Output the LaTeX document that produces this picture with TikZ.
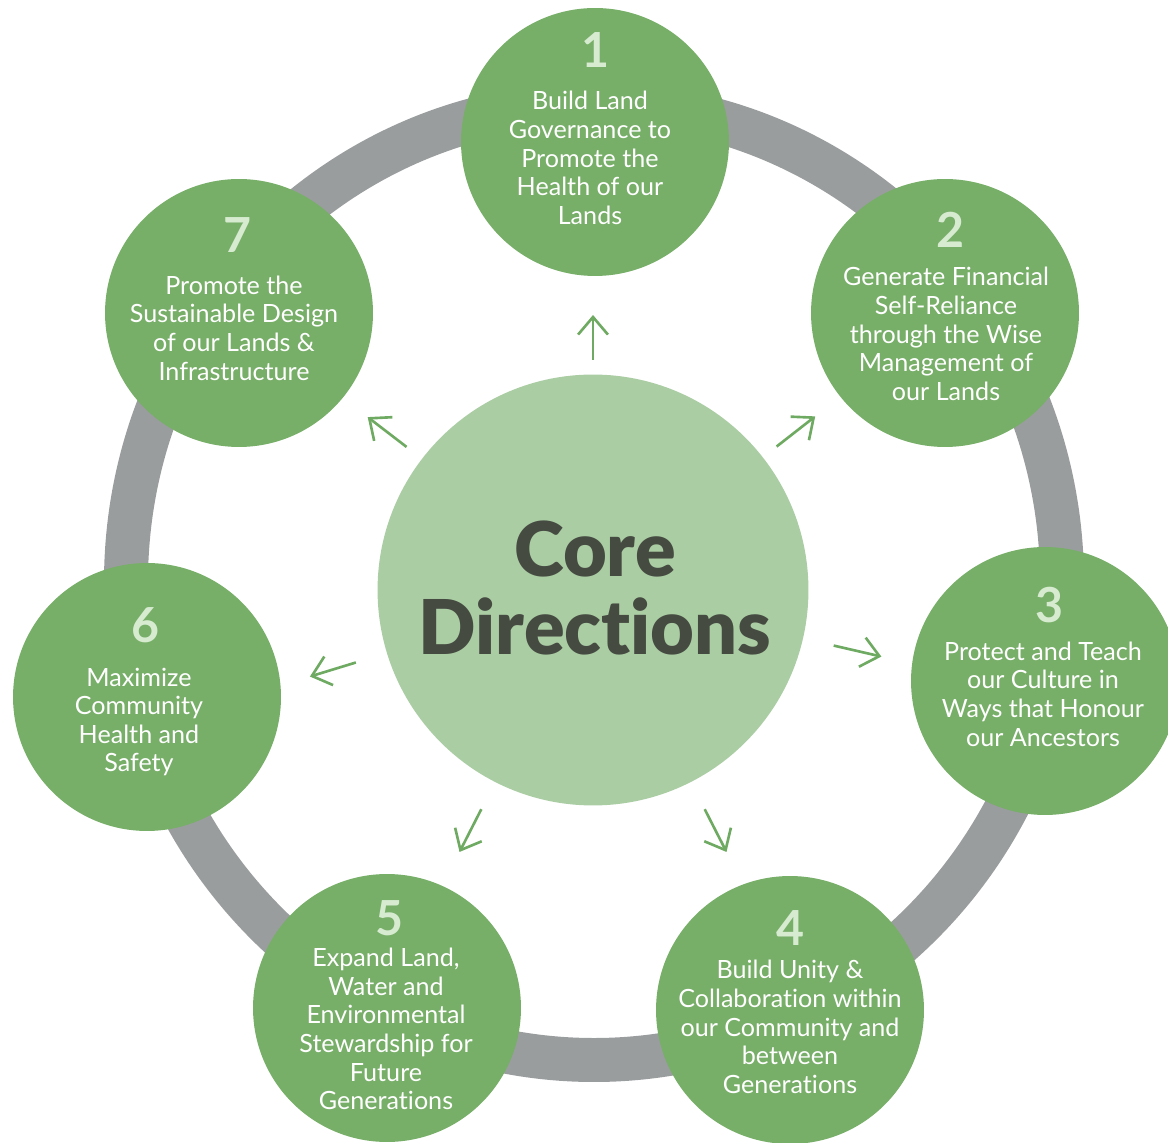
\documentclass[tikz,border=0pt]{standalone}
\usepackage{fontspec}
\setmainfont{Lato}[Ligatures=NoCommon]
\newfontfamily\corefont{Lato Black}[Ligatures=NoCommon]
\usetikzlibrary{arrows.meta,calc}

\definecolor{ringgray}{HTML}{9A9D9E}
\definecolor{dirgreen}{HTML}{77AE68}
\definecolor{coregreen}{HTML}{ABCDA4}
\definecolor{numgreen}{HTML}{D6EBD0}
\definecolor{coretext}{HTML}{454B41}
\definecolor{arrowgreen}{HTML}{6FAA62}

\tikzset{
  dircircle/.style={circle,fill=dirgreen,minimum size=5.36cm,inner sep=0pt},
  dirnum/.style={text=numgreen,font=\fontsize{27.5}{30}\selectfont\bfseries},
  dirtext/.style={text=white,align=center,inner sep=0pt,font=\fontsize{14.3}{16.3}\selectfont},
  dirarrow/.style={arrowgreen,line width=1.5pt,-{Straight Barb[length=10pt,width=17pt]}}
}

\begin{document}
\begin{tikzpicture}[x=0.02cm,y=0.02cm]

\useasboundingbox (0,0) rectangle (1168,1142);

% ring through the seven directions
\draw[ringgray,line width=0.88cm] (594,560) ellipse [x radius=468,y radius=478];

% core circle
\node[circle,fill=coregreen,minimum size=8.62cm,inner sep=0pt] (core) at (593,552) {};
\node[text=coretext,align=center,font=\fontsize{43}{44.4}\selectfont\corefont] (coretitle) at (595,554) {Core\\Directions};

% arrows from the core
\foreach \ang/\rin/\rout in {90/230/275, 38/233/282, -13/247/296, -63/246/294, -117/246/294, -163/248/296, 142.5/235/284}
  \draw[dirarrow] ($(core.center)+(\ang:\rin)$) -- ($(core.center)+(\ang:\rout)$);

% direction 1
\node[dircircle] (d1) at (595,1000) {};
\node[dirnum] (n1) at (595,1092) {1};
\node[dirtext] (t1) at (590,984) {Build Land\\Governance to\\Promote the\\Health of our\\Lands};

% direction 2
\node[dircircle] (d2) at (945,829) {};
\node[dirnum] (n2) at (950,912) {2};
\node[dirtext] (t2) at (946,808) {Generate Financial\\Self-Reliance\\through the Wise\\Management of\\our Lands};

% direction 3
\node[dircircle] (d3) at (1045,461) {};
\node[dirnum] (n3) at (1049,537) {3};
\node[dirtext] (t3) at (1043,448) {Protect and Teach\\our Culture in\\Ways that Honour\\our Ancestors};

% direction 4
\node[dircircle] (d4) at (790,132) {};
\node[dirnum] (n4) at (790,214) {4};
\node[dirtext] (t4) at (790,115) {Build Unity \&\\Collaboration within\\our Community and\\between\\Generations};

% direction 5
\node[dircircle] (d5) at (387,134) {};
\node[dirnum] (n5) at (390,224) {5};
\node[dirtext] (t5) at (386,113) {Expand Land,\\Water and\\Environmental\\Stewardship for\\Future\\Generations};

% direction 6
\node[dircircle] (d6) at (147,445) {};
\node[dirnum] (n6) at (146,517) {6};
\node[dirtext] (t6) at (139,420) {Maximize\\Community\\Health and\\Safety};

% direction 7
\node[dircircle] (d7) at (239,829) {};
\node[dirnum] (n7) at (238,907) {7};
\node[dirtext] (t7) at (234,814) {Promote the\\Sustainable Design\\of our Lands \&\\Infrastructure};

\end{tikzpicture}
\end{document}
